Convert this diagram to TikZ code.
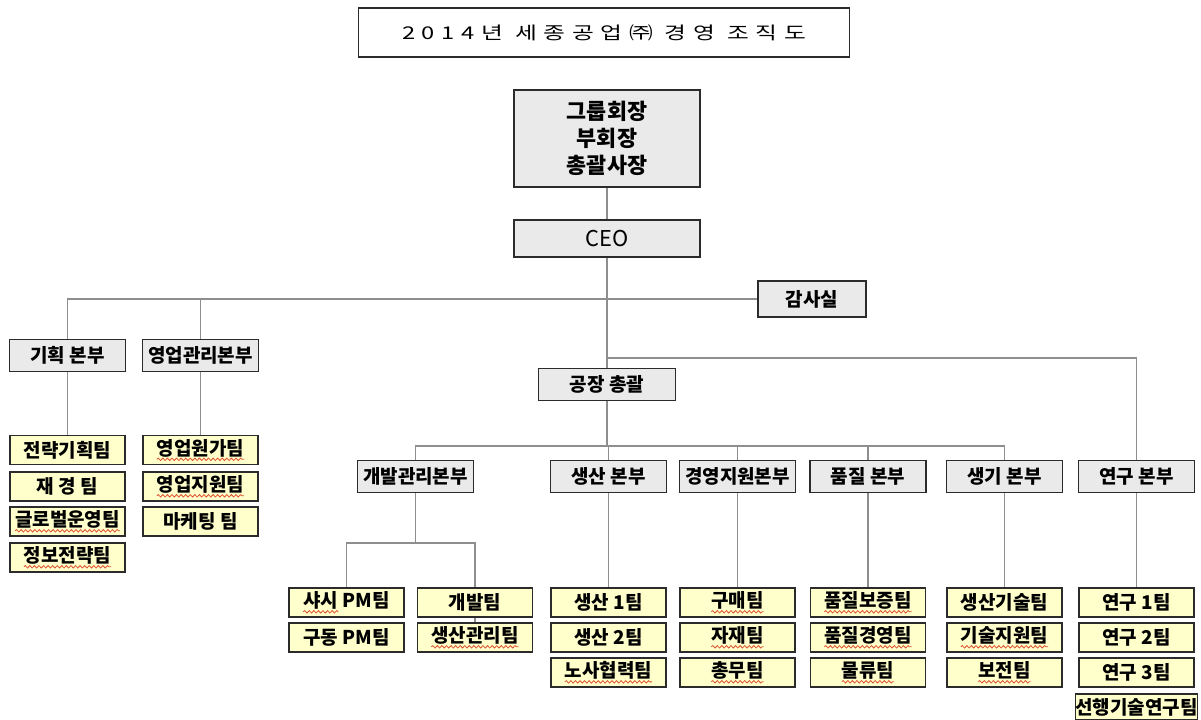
\documentclass[tikz,border=0pt]{standalone}
\usepackage{fontspec}
\usetikzlibrary{decorations.pathmorphing}
\setmainfont{Noto Sans CJK KR}
\newfontfamily\titlefont[FakeStretch=1.35,LetterSpace=38]{Noto Sans CJK KR}
\definecolor{edge}{HTML}{2B2B2B}
\definecolor{linkgray}{HTML}{8E8E8E}
\definecolor{headfill}{HTML}{EAEAEA}
\definecolor{teamfill}{HTML}{FFFFCC}
\definecolor{typo}{HTML}{E0502F}
\tikzset{
  head/.style={draw=edge, line width=0.85pt, fill=headfill, minimum width=2.32cm, minimum height=0.64cm, inner sep=0pt, font=\bfseries\fontsize{10.8}{12}\selectfont},
  team/.style={draw=edge, line width=0.85pt, fill=teamfill, minimum width=2.3cm, minimum height=0.58cm, inner sep=0pt, font=\bfseries\fontsize{10.8}{12}\selectfont},
  link/.style={draw=linkgray, line width=1.1pt},
  squig/.style={draw=typo, line width=0.45pt, decorate, decoration={snake, amplitude=0.7pt, segment length=2.6pt}}
}
\newcommand{\wavy}[1]{\tikz[baseline=(w.base)]{\node[draw=none, fill=none, inner sep=0pt, outer sep=0pt, minimum width=0pt, minimum height=0pt] (w) {#1}; \draw[squig] ([yshift=-2.4pt]w.base west) -- ([yshift=-2.4pt]w.base east);}}

\begin{document}
\begin{tikzpicture}[x=0.02cm, y=-0.02cm]
  \useasboundingbox (0,0) rectangle (1201,720);
  % title
  \node[draw=edge, line width=0.6pt, minimum width=9.84cm, minimum height=0.98cm, font=\titlefont\fontsize{10}{12}\selectfont] (title) at (604,32.5) {2014년 세종공업㈜ 경영 조직도};
  % top
  \node[head, font=\bfseries\fontsize{12.4}{15.5}\selectfont, align=center, minimum width=3.72cm, minimum height=1.94cm] (chair) at (607,138.5) {그룹회장\\부회장\\총괄사장};
  \node[head, font=\fontsize{12.4}{14}\selectfont, minimum width=3.72cm, minimum height=0.74cm] (ceo) at (607,238.5) {CEO};
  \node[head, minimum width=2.16cm, minimum height=0.72cm] (audit) at (812,299) {감사실};
  \node[head] (plan) at (67.5,355.5) {기획 본부};
  \node[head] (sales) at (200.5,355.5) {영업관리본부};
  \node[head, minimum width=2.74cm] (factory) at (607,384.5) {공장 총괄};
  % divisions
  \node[head] (dev) at (415.5,476.5) {개발관리본부};
  \node[head] (prod) at (608.5,476.5) {생산 본부};
  \node[head] (mgmt) at (737.5,476.5) {경영지원본부};
  \node[head] (qual) at (868,476.5) {품질 본부};
  \node[head] (eng) at (1004.5,476.5) {생기 본부};
  \node[head] (rnd) at (1136.5,476.5) {연구 본부};
  % left teams
  \node[team] (plan1) at (67.5,450) {전략기획팀};
  \node[team] (plan2) at (67.5,486.5) {재 경 팀};
  \node[team] (plan3) at (67.5,521.5) {\wavy{글로벌운영팀}};
  \node[team] (plan4) at (67.5,557.5) {\wavy{정보전략팀}};
  \node[team] (sales1) at (200.5,450) {\wavy{영업원가팀}};
  \node[team] (sales2) at (200.5,486.5) {\wavy{영업지원팀}};
  \node[team] (sales3) at (200.5,521.5) {마케팅 팀};
  % factory teams
  \node[team] (pm1) at (346.5,602.5) {\wavy{샤시} PM팀};
  \node[team] (pm2) at (346.5,637.5) {구동 PM팀};
  \node[team] (dv1) at (475,602.5) {개발팀};
  \node[team] (dv2) at (475,637.5) {\wavy{생산관리팀}};
  \node[team] (prod1) at (608.5,602.5) {생산 1팀};
  \node[team] (prod2) at (608.5,637.5) {생산 2팀};
  \node[team] (prod3) at (608.5,672.5) {\wavy{노사협력팀}};
  \node[team] (mgmt1) at (737.5,602.5) {\wavy{구매팀}};
  \node[team] (mgmt2) at (737.5,637.5) {\wavy{자재팀}};
  \node[team] (mgmt3) at (737.5,672.5) {\wavy{총무팀}};
  \node[team] (qual1) at (868,602.5) {\wavy{품질보증팀}};
  \node[team] (qual2) at (868,637.5) {\wavy{품질경영팀}};
  \node[team] (qual3) at (868,672.5) {\wavy{물류팀}};
  \node[team] (eng1) at (1004.5,602.5) {생산기술팀};
  \node[team] (eng2) at (1004.5,637.5) {\wavy{기술지원팀}};
  \node[team] (eng3) at (1004.5,672.5) {\wavy{보전팀}};
  \node[team] (rnd1) at (1136.5,602.5) {연구 1팀};
  \node[team] (rnd2) at (1136.5,637.5) {연구 2팀};
  \node[team] (rnd3) at (1136.5,672.5) {연구 3팀};
  \node[team, minimum height=0.52cm] (rnd4) at (1136.5,707) {선행기술연구팀};
  % links
  \coordinate (j2) at (607,358);
  \coordinate (j3) at (607,446);
  \coordinate (j4) at (415.5,543);
  \draw[link] (chair) -- (ceo);
  \draw[link] (ceo) -- (factory);
  \draw[link] (plan) |- (audit);
  \draw[link] (sales) -- (sales |- audit);
  \draw[link] (j2) -| (rnd);
  \draw[link] (factory) -- (j3);
  \draw[link] (dev) |- (j3) -| (eng);
  \foreach \d in {prod,mgmt,qual}
    \draw[link] (\d) -- (\d |- j3);
  \foreach \d in {plan,sales,prod,mgmt,qual,eng,rnd}
    \draw[link] (\d) -- (\d1);
  \draw[link] (dev) -- (j4);
  \draw[link] (pm1) |- (j4) -| (dv1);
  \draw[link] (dv1) -- (dv2);
\end{tikzpicture}
\end{document}
